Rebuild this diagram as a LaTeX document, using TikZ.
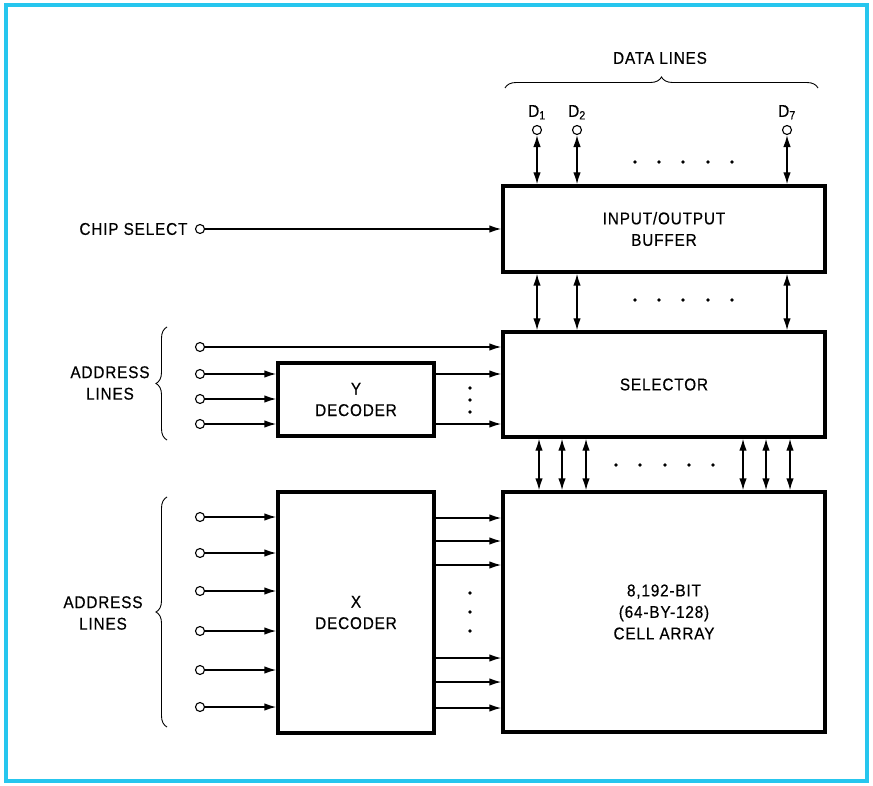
\documentclass[tikz,border=0pt]{standalone}
\usepackage{fontspec}
\setmainfont{Liberation Sans}[FakeStretch=0.9, LetterSpace=5, FakeBold=0.5]
\usepackage{tikz}
\usetikzlibrary{arrows.meta,positioning,decorations.pathreplacing}
\definecolor{frame}{RGB}{38,198,238}

\begin{document}
\begin{tikzpicture}[
      x=1pt, y=-1pt,
      font=\fontsize{17}{21.5}\selectfont,
      blk/.style={rectangle, draw, line width=3.4pt, align=center, inner sep=0pt},
      pin/.style={circle, draw, line width=1.1pt, fill=white, inner sep=0pt, minimum size=9pt},
      sig/.style={draw, line width=1.4pt, -{Latex[length=12pt,width=7.5pt]}},
      bus/.style={draw, line width=1.4pt, {Latex[length=12pt,width=7.5pt]}-{Latex[length=12pt,width=7.5pt]}},
      dot/.style={circle, fill, inner sep=0pt, minimum size=3.6pt},
      brc/.style={draw, line width=0.9pt, decorate, decoration={brace, amplitude=11pt}},
      lbl/.style={align=center}
    ]
    \useasboundingbox (0,0) rectangle (873,786);
    \draw[frame, line width=4pt] (6,5) rectangle (867,781);

    % blocks
    \node[blk, minimum width=322pt, minimum height=86pt] (iob) at (664,229) {INPUT/OUTPUT\\BUFFER};
    \node[blk, minimum width=322pt, minimum height=105pt] (sel) at (664,384.5) {SELECTOR};
    \node[blk, minimum width=322pt, minimum height=240pt] (cells) at (664,612) {8,192-BIT\\(64-BY-128)\\CELL ARRAY};
    \node[blk, minimum width=156pt, minimum height=73pt] (ydec) at (356,399.5) {Y\\DECODER};
    \node[blk, minimum width=156pt, minimum height=241pt] (xdec) at (356,612.5) {X\\DECODER};

    % data lines
    \node[lbl] (datalbl) at (660,58) {DATA LINES};
    \draw[brc] (505,88) -- (818,88);
    \foreach \n/\x/\s in {d1/537/1, d2/577/2, d7/787/7} {
        \node[pin] (\n) at (\x,130) {};
        \node[above=2pt of \n] (\n lbl) {D\textsubscript{\s}};
        \draw[bus] (\n) -- (\n |- iob.north);
        \draw[bus] (\n |- iob.south) -- (\n |- sel.north);
    }
    \foreach \x in {635,659,683,708,732} {
        \node[dot] (top\x) at (\x,162) {};
        \node[dot] (mid\x) at (\x,300) {};
    }

    % selector to cell array
    \foreach \x in {539,562,586,743,766,790}
        \draw[bus] (sel.south -| \x,0) -- (cells.north -| \x,0);
    \foreach \x in {616,640,665,689,713}
        \node[dot] (low\x) at (\x,465) {};

    % chip select
    \node[pin] (cs) at (200,229) {};
    \node[left=4pt of cs] (cslbl) {CHIP SELECT};
    \draw[sig] (cs) -- (cs -| iob.west);

    % Y address lines
    \foreach \i/\y in {1/347,2/374,3/399,4/424}
        \node[pin] (ya\i) at (200,\y) {};
    \draw[sig] (ya1) -- (ya1 -| sel.west);
    \foreach \i in {2,3,4}
        \draw[sig] (ya\i) -- (ya\i -| ydec.west);
    \foreach \i in {2,4}
        \draw[sig] (ydec.east |- ya\i) -- (sel.west |- ya\i);
    \foreach \y in {388,400,412}
        \node[dot] (yd\y) at (470,\y) {};
    \draw[brc] (167,440) -- (167,327);
    \node[lbl] (yalbl) at (110,383) {ADDRESS\\LINES};

    % X address lines
    \foreach \i/\y in {1/517,2/553,3/591,4/631,5/670,6/707} {
        \node[pin] (xa\i) at (200,\y) {};
        \draw[sig] (xa\i) -- (xa\i -| xdec.west);
    }
    \foreach \y in {518,541,565,658,682,708}
        \draw[sig] (xdec.east |- 0,\y) -- (cells.west |- 0,\y);
    \foreach \y in {593,612,631}
        \node[dot] (xd\y) at (470,\y) {};
    \draw[brc] (167,727) -- (167,497);
    \node[lbl] (xalbl) at (103,613) {ADDRESS\\LINES};
\end{tikzpicture}
\end{document}
